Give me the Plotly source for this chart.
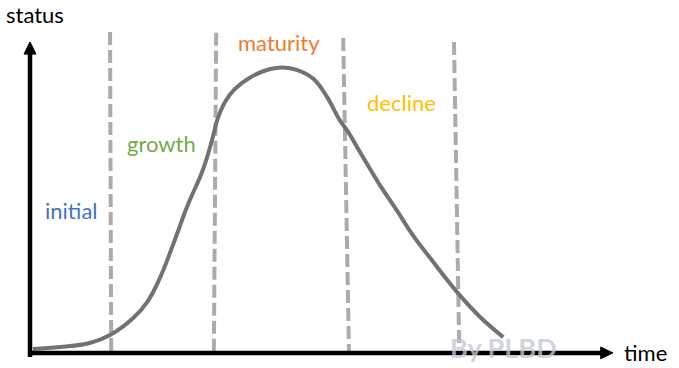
import plotly.graph_objects as go

# Life-cycle curve (time 0-100, status 0-100)
curve_time = [0.5, 5.2, 10.3, 13.8, 17.8, 20.2, 22.4, 24.7, 27.2, 29.8, 31.4, 32.4,
              33.6, 35.3, 38.1, 41.4, 43.6, 46.0, 48.8, 51.2, 53.4, 54.7, 57.4, 60.3,
              63.3, 66.0, 69.0, 73.6, 77.6, 81.6]
curve_status = [1.0, 1.6, 2.9, 5.5, 11.0, 16.1, 23.9, 34.8, 47.4, 58.7, 68.5, 75.5,
                80.6, 84.8, 88.7, 91.3, 91.8, 91.0, 88.2, 82.3, 74.8, 71.4, 62.9, 53.9,
                45.5, 37.7, 30.3, 19.4, 11.3, 4.8]

# Phase boundaries (top and bottom positions of each dashed divider)
divider_top_time = [13.8, 32.1, 54.0, 73.1]
divider_bottom_time = [14.0, 31.7, 55.0, 74.0]
divider_top_status = [103.2, 103.0, 101.3, 100.0]
divider_bottom_status = [0.0, 0.0, 0.0, 2.3]

# Phase labels
phase_names = ["initial", "growth", "maturity", "decline"]
phase_time = [7.1, 22.6, 42.9, 64.1]
phase_status = [45.8, 67.4, 99.7, 80.6]
phase_colors = ["#4472C4", "#70AD47", "#ED7D31", "#FFC000"]

X_RANGE = [-5.172, 111.897]
Y_RANGE = [-5.161, 113.548]
AXIS_Y = -0.3

FONT = "Lato, 'Open Sans', sans-serif"

fig = go.Figure()

for tt, bt, ts, bs in zip(divider_top_time, divider_bottom_time,
                          divider_top_status, divider_bottom_status):
    fig.add_trace(go.Scatter(x=[tt, bt], y=[ts, bs], mode="lines",
                             line=dict(color="#AEAAAA", width=4, dash="13px,5px"),
                             hoverinfo="skip", showlegend=False))

fig.add_trace(go.Scatter(x=curve_time, y=curve_status, mode="lines",
                         line=dict(color="#767171", width=4, shape="spline", smoothing=1.2),
                         showlegend=False))

# axes lines with arrow heads
shapes = [
    dict(type="line", xref="x", yref="y", x0=0, x1=0, y0=-1.6, y1=97,
         line=dict(color="black", width=4.5)),
    dict(type="line", xref="x", yref="y", x0=0, x1=99, y0=AXIS_Y, y1=AXIS_Y,
         line=dict(color="black", width=4.5)),
    dict(type="path", xref="x", yref="y",
         path="M -1.03,96.1 L 0,100 L 1.03,96.1 Z",
         fillcolor="black", line=dict(color="black", width=1)),
    dict(type="path", xref="x", yref="y",
         path=f"M 98.4,{AXIS_Y-1.9} L 100.5,{AXIS_Y} L 98.4,{AXIS_Y+1.9} Z",
         fillcolor="black", line=dict(color="black", width=1)),
]

annotations = [
    dict(x=0.86, y=108.9, text="status", showarrow=False, xanchor="center",
         yanchor="middle", font=dict(family=FONT, size=22, color="black")),
    dict(x=102.0, y=AXIS_Y, text="time", showarrow=False, xanchor="left",
         yanchor="middle", font=dict(family=FONT, size=22, color="black")),
]
for name, t, s, c in zip(phase_names, phase_time, phase_status, phase_colors):
    annotations.append(dict(x=t, y=s, text=name, showarrow=False, xanchor="center",
                            yanchor="middle", font=dict(family=FONT, size=22, color=c)))
annotations.append(dict(x=81.7, y=1.3, text="<b>By PLBD</b>", showarrow=False,
                        xanchor="center", yanchor="middle",
                        font=dict(family=FONT, size=27, color="rgba(196,200,210,0.8)")))

fig.update_layout(
    width=679, height=368,
    margin=dict(l=0, r=0, t=0, b=0),
    paper_bgcolor="white", plot_bgcolor="white",
    xaxis=dict(range=X_RANGE, visible=False, fixedrange=True),
    yaxis=dict(range=Y_RANGE, visible=False, fixedrange=True),
    shapes=shapes, annotations=annotations,
    showlegend=False,
)

fig.write_html("out.html")
